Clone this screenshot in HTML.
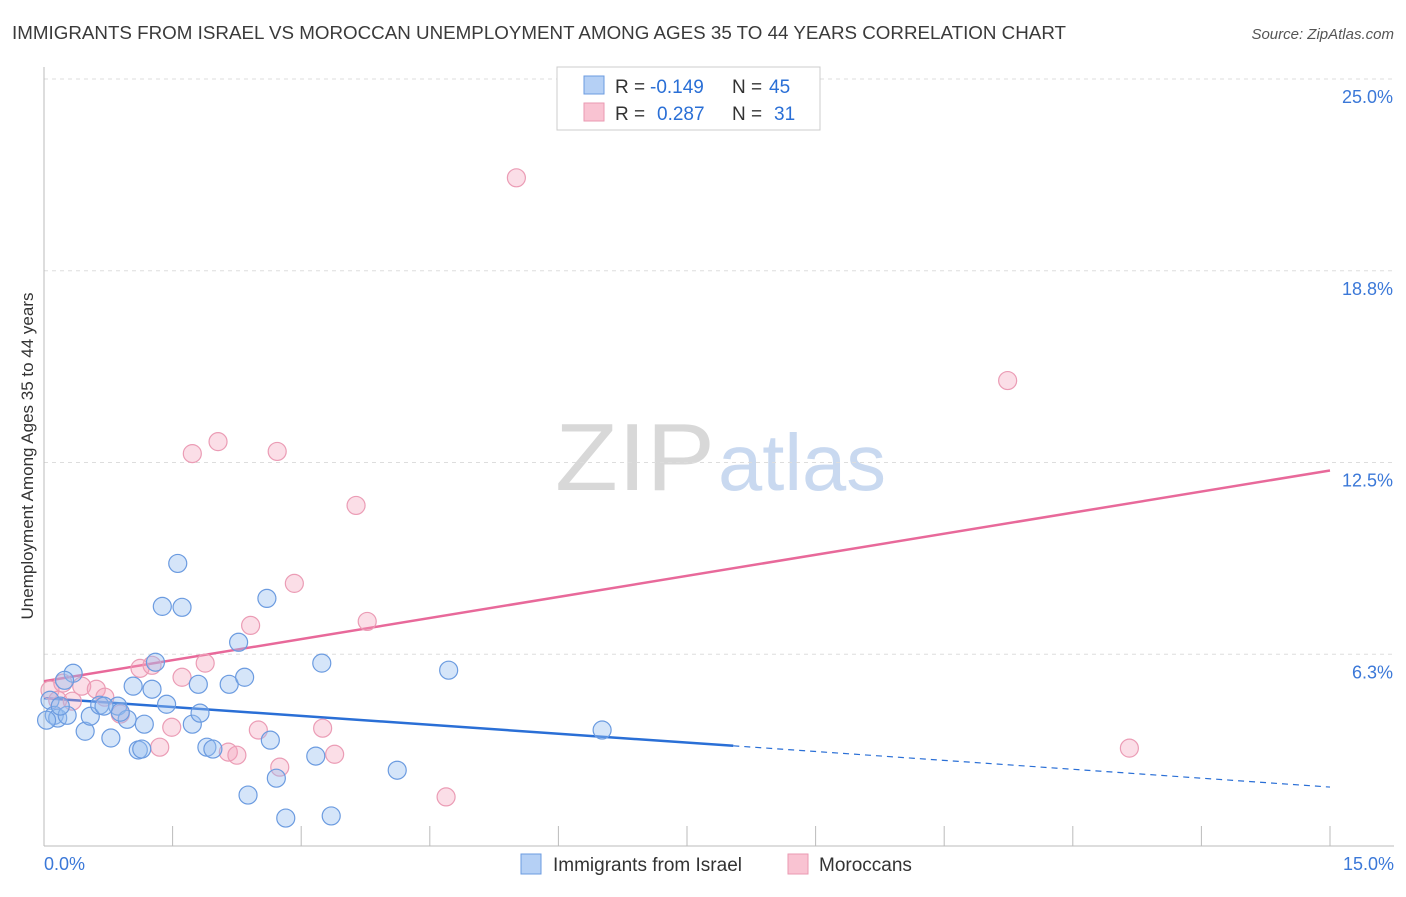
<!DOCTYPE html>
<html><head><meta charset="utf-8"><style>
body{margin:0;background:#fff;font-family:"Liberation Sans",sans-serif;}
svg text{font-family:"Liberation Sans",sans-serif;}
</style></head><body>
<svg id="chart" width="1406" height="892" xmlns="http://www.w3.org/2000/svg">
<text x="12" y="39" font-size="18" fill="#3a3a3a" textLength="1054" lengthAdjust="spacingAndGlyphs">IMMIGRANTS FROM ISRAEL VS MOROCCAN UNEMPLOYMENT AMONG AGES 35 TO 44 YEARS CORRELATION CHART</text>
<text x="1394" y="39" font-size="15" fill="#555" font-style="italic" text-anchor="end">Source: ZipAtlas.com</text>
<text x="555" y="490" font-size="96" fill="#d8d8d8" font-family="Liberation Serif" textLength="160" lengthAdjust="spacingAndGlyphs">ZIP</text>
<text x="718" y="490" font-size="80" fill="#c9d9f0" textLength="168" lengthAdjust="spacingAndGlyphs">atlas</text>
<text transform="translate(33,456) rotate(-90)" font-size="17" fill="#333" text-anchor="middle">Unemployment Among Ages 35 to 44 years</text>
<g id="grid"></g><g id="axes"></g><g id="lines"></g><g id="points"></g>
<g>
<rect x="557" y="67" width="263" height="63" fill="#fff" stroke="#ccc"/>
<rect x="584" y="76" width="20" height="18" fill="#b5d0f5" stroke="#6b9be0"/>
<rect x="584" y="103" width="20" height="18" fill="#f9c3d2" stroke="#ea9ab2"/>
<text x="615" y="93" font-size="19" fill="#333">R =</text>
<text x="650" y="93" font-size="19" fill="#2a6fd6">-0.149</text>
<text x="732" y="93" font-size="19" fill="#333">N =</text>
<text x="769" y="93" font-size="19" fill="#2a6fd6">45</text>
<text x="615" y="120" font-size="19" fill="#333">R =</text>
<text x="657" y="120" font-size="19" fill="#2a6fd6">0.287</text>
<text x="732" y="120" font-size="19" fill="#333">N =</text>
<text x="774" y="120" font-size="19" fill="#2a6fd6">31</text>
</g>
<g>
<rect x="521" y="854" width="20" height="20" fill="#b5d0f5" stroke="#6b9be0"/>
<text x="553" y="871" font-size="19" fill="#333">Immigrants from Israel</text>
<rect x="788" y="854" width="20" height="20" fill="#f9c3d2" stroke="#ea9ab2"/>
<text x="819" y="871" font-size="19" fill="#333">Moroccans</text>
</g>
</svg>
<script>
const xTicks=[0,1.5,3,4.5,6,7.5,9,10.5,12,13.5,15];
const yTicks=[6.25,12.5,18.75,25];
const yTickLabels=["6.3%","12.5%","18.8%","25.0%"];
const israelX=[0.07,0.12,0.16,0.27,0.34,0.24,0.48,0.54,0.65,0.78,0.86,0.97,1.04,1.10,1.17,1.14,1.26,1.30,1.38,1.43,1.56,1.61,1.73,1.80,1.82,1.90,1.97,2.16,2.27,2.34,2.38,2.60,2.64,2.71,2.82,3.17,3.24,3.35,4.12,4.72,6.51,0.89,0.03,0.19,0.70];
const israelY=[4.75,4.26,4.17,4.26,5.63,5.40,3.74,4.23,4.59,3.52,4.56,4.13,5.21,3.13,3.97,3.16,5.11,5.99,7.81,4.62,9.21,7.78,3.97,5.27,4.33,3.22,3.16,5.27,6.64,5.50,1.66,8.07,3.45,2.21,0.91,2.93,5.96,0.98,2.47,5.73,3.78,4.36,4.10,4.56,4.56];
const moroccoX=[0.07,0.16,0.22,0.33,0.44,0.61,0.71,0.89,1.12,1.26,1.35,1.49,1.61,1.73,1.88,2.03,2.15,2.25,2.41,2.50,2.72,2.75,2.92,3.25,3.39,3.64,3.77,4.69,5.51,11.24,12.66];
const moroccoY=[5.08,4.75,5.31,4.72,5.21,5.11,4.85,4.30,5.79,5.89,3.22,3.87,5.50,12.79,5.96,13.18,3.06,2.96,7.19,3.78,12.86,2.57,8.56,3.84,2.99,11.10,7.32,1.60,21.78,15.17,3.19];
const israelTrend=[4.82,-0.1933];
const israelSolidEnd=8.04;
const moroccoTrend=[5.37,0.458];
const NS="http://www.w3.org/2000/svg";
const X0=44,X1=1330,Y0=846;
const sx=v=>X0+(v/15)*(X1-X0);
const sy=v=>Y0-(v/25)*(Y0-79);
function mk(tag,attrs,parent){const e=document.createElementNS(NS,tag);for(const k in attrs)e.setAttribute(k,attrs[k]);parent.appendChild(e);return e;}
const grid=document.getElementById('grid'),axes=document.getElementById('axes'),lines=document.getElementById('lines'),pts=document.getElementById('points');
yTicks.forEach((t,i)=>{
 const l=mk('line',{x1:X0,x2:1394,y1:sy(t),y2:sy(t),stroke:'#ddd','stroke-dasharray':'4,4'},grid);
 
 
 const tx=mk('text',{x:1393,y:sy(t)+24,'font-size':18,fill:'#3b78d8','text-anchor':'end'},axes);
 tx.textContent=yTickLabels[i];
 
 
});
const ax=mk('line',{x1:X0,x2:X0,y1:67,y2:Y0,stroke:'#bbb'},axes);


const bx=mk('line',{x1:X0,x2:1394,y1:Y0,y2:Y0,stroke:'#bbb'},axes);


xTicks.forEach(t=>{
 const l=mk('line',{x1:sx(t),x2:sx(t),y1:826,y2:Y0,stroke:'#bbb'},axes);
 
 
});
const xl0=mk('text',{x:44,y:870,'font-size':18,fill:'#3b78d8'},axes);xl0.textContent=xTicks[0].toFixed(1)+'%';


const xl1=mk('text',{x:1394,y:870,'font-size':18,fill:'#3b78d8','text-anchor':'end'},axes);xl1.textContent=xTicks[xTicks.length-1].toFixed(1)+'%';


const pl=mk('line',{x1:sx(0),y1:sy(moroccoTrend[0]),x2:sx(15),y2:sy(moroccoTrend[0]+15*moroccoTrend[1]),stroke:'#e8699a','stroke-width':2.5},lines);


const bl=mk('line',{x1:sx(0),y1:sy(israelTrend[0]),x2:sx(israelSolidEnd),y2:sy(israelTrend[0]+israelSolidEnd*israelTrend[1]),stroke:'#2a6fd6','stroke-width':2.5},lines);


const bd=mk('line',{x1:sx(israelSolidEnd),y1:sy(israelTrend[0]+israelSolidEnd*israelTrend[1]),x2:sx(15),y2:sy(israelTrend[0]+15*israelTrend[1]),stroke:'#2a6fd6','stroke-width':1.2,'stroke-dasharray':'6,5'},lines);


moroccoX.forEach((x,i)=>{
 const c=mk('circle',{cx:sx(x),cy:sy(moroccoY[i]),r:9,fill:'rgba(244,160,186,0.35)',stroke:'#eb9cb5','stroke-width':1.2},pts);
 
 
});
israelX.forEach((x,i)=>{
 const c=mk('circle',{cx:sx(x),cy:sy(israelY[i]),r:9,fill:'rgba(150,190,240,0.4)',stroke:'#6b9be0','stroke-width':1.2},pts);
 
 
});
</script>
</body></html>
